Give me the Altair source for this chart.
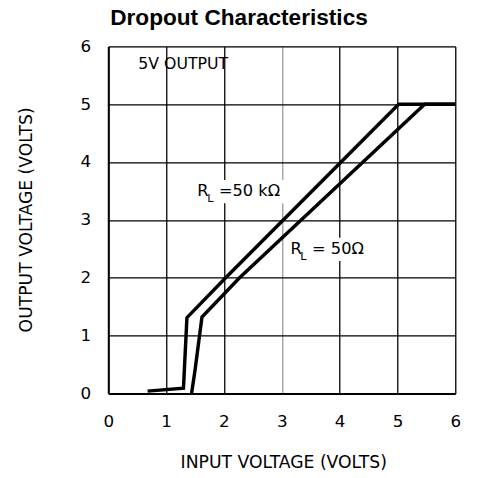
import altair as alt
import pandas as pd

# ---- data ----
series_names = ["RL = 50 kΩ", "RL = 50 Ω"]
x_50k = [0.68, 1.30, 1.36, 2.03, 5.02, 6.0]
y_50k = [0.04, 0.09, 1.31, 2.00, 5.00, 5.00]
x_50 = [1.44, 1.50, 1.62, 2.27, 5.47, 6.0]
y_50 = [0.00, 0.40, 1.32, 2.00, 5.00, 5.00]

grid_values = [0, 0.5, 1, 1.5, 2, 2.5, 3, 3.5, 4, 4.5, 5, 5.5, 6]

chart_title = "Dropout Characteristics"

# annotation labels (R with subscript L, then the rest)
label_x = [1.54, 3.15]
label_y = [3.49, 2.49]
label_rest = ["=50 kΩ", "= 50Ω"]
# white boxes behind the labels (data units)
box_x = [1.35, 3.06]
box_x2 = [3.20, 4.62]
box_y = [3.29, 2.29]
box_y2 = [3.69, 2.69]

note_text = ["5V OUTPUT"]
note_x = [0.52]
note_y = [5.70]

rows = []
for name, xs, ys in [(series_names[0], x_50k, y_50k), (series_names[1], x_50, y_50)]:
    for i, (xv, yv) in enumerate(zip(xs, ys)):
        rows.append({"series": name, "x": xv, "y": yv, "order": i})
lines_df = pd.DataFrame(rows)

labels_df = pd.DataFrame({"x": label_x, "y": label_y, "rest": label_rest})
boxes_df = pd.DataFrame({"x": box_x, "x2": box_x2, "y": box_y, "y2": box_y2})
note_df = pd.DataFrame({"text": note_text, "x": note_x, "y": note_y})
title_df = pd.DataFrame({"text": [chart_title]})

FONT = "DejaVu Sans"

xscale = alt.Scale(domain=[0, 6], nice=False, zero=False)
yscale = alt.Scale(domain=[0, 6], nice=False, zero=False)

LABEL_EXPR = "datum.value % 1 == 0 ? '' + datum.value : ''"

x_axis = alt.Axis(
    values=grid_values,
    labelExpr=LABEL_EXPR,
    title="INPUT VOLTAGE (VOLTS)",
    grid=True,
    gridColor=alt.condition("datum.value == 1.5 || datum.value == 3",
                            alt.value("#9a9a9a"), alt.value("black")),
    gridWidth=1.3,
    gridOpacity=1,
    ticks=False,
    tickSize=0,
    domainColor="black",
    domainWidth=2,
    labelFont=FONT,
    labelFontSize=17,
    labelColor="black",
    labelBaseline="alphabetic",
    labelPadding=34,
    labelFlush=False,
    titleFont=FONT,
    titleFontSize=17.5,
    titleFontWeight="normal",
    titleColor="black",
    titleX=178,
    titleY=75,
    titleAlign="center",
    titleBaseline="alphabetic",
)

y_axis = alt.Axis(
    values=grid_values,
    labelExpr=LABEL_EXPR,
    title="OUTPUT VOLTAGE (VOLTS)",
    grid=True,
    gridColor="black",
    gridWidth=1.3,
    gridOpacity=1,
    ticks=False,
    tickSize=0,
    domainColor="black",
    domainWidth=2,
    labelFont=FONT,
    labelFontSize=17,
    labelColor="black",
    labelBaseline="middle",
    labelPadding=18,
    labelFlush=False,
    titleFont=FONT,
    titleFontSize=17.5,
    titleFontWeight="normal",
    titleColor="black",
    titleX=-78,
    titleY=176,
    titleAngle=270,
    titleAlign="center",
    titleBaseline="alphabetic",
)

boxes = alt.Chart(boxes_df).mark_rect(color="white", opacity=1).encode(
    x=alt.X("x:Q", scale=xscale, axis=x_axis),
    x2="x2:Q",
    y=alt.Y("y:Q", scale=yscale, axis=y_axis),
    y2="y2:Q",
)

lines = alt.Chart(lines_df).mark_line(
    strokeWidth=3.5, strokeJoin="miter", color="black"
).encode(
    x=alt.X("x:Q", scale=xscale),
    y=alt.Y("y:Q", scale=yscale),
    detail="series:N",
    order="order:Q",
)

r_text = alt.Chart(labels_df).mark_text(
    text="R", align="left", baseline="middle", font=FONT, fontSize=16.5, color="black"
).encode(x="x:Q", y="y:Q")

l_text = alt.Chart(labels_df).mark_text(
    text="L", align="left", baseline="middle", font=FONT, fontSize=11.5,
    color="black", dx=10, dy=8
).encode(x="x:Q", y="y:Q")

rest_text = alt.Chart(labels_df).mark_text(
    align="left", baseline="middle", font=FONT, fontSize=16.5, color="black", dx=22
).encode(x="x:Q", y="y:Q", text="rest:N")

note = alt.Chart(note_df).mark_text(
    align="left", baseline="middle", font=FONT, fontSize=16, color="black"
).encode(x="x:Q", y="y:Q", text="text:N")

title = alt.Chart(title_df).mark_text(
    align="left", baseline="alphabetic", font="Liberation Sans", fontSize=23,
    fontWeight="bold", color="black"
).encode(x=alt.value(2), y=alt.value(-21.5), text="text:N")

chart = alt.layer(boxes, lines, r_text, l_text, rest_text, note, title).properties(
    width=353,
    height=353,
    autosize=alt.AutoSizeParams(type="none"),
    padding={"left": 102, "top": 35, "right": 17, "bottom": 82},
).configure_view(stroke="black", strokeWidth=1.5).configure(background="white")

chart.save("out.html", embed_options={"renderer": "svg", "actions": False})
